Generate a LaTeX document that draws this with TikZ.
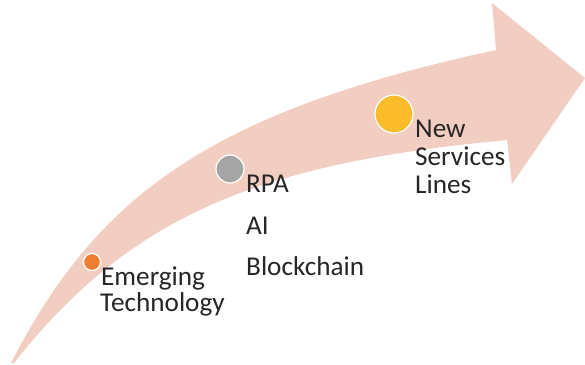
\documentclass[tikz,border=0pt]{standalone}
\usepackage{fontspec}
\setmainfont{Carlito}
\usepackage{tikz}

\definecolor{arrowpink}{RGB}{242,206,194}
\definecolor{dotorange}{RGB}{237,125,49}
\definecolor{dotgray}{RGB}{165,165,165}
\definecolor{dotyellow}{RGB}{250,188,40}
\definecolor{labeltext}{RGB}{38,38,38}

\begin{document}
\begin{tikzpicture}[x=1pt, y=-1pt,
    dot/.style={circle, draw=white, line width=1.2pt, inner sep=0pt},
    lbl/.style={anchor=base west, inner sep=0pt, text=labeltext,
        font=\fontsize{27.2}{28}\selectfont}]
    \useasboundingbox (0,0) rectangle (585,364);

    % the curved arrow
    \fill[arrowpink] (11,363) .. controls (96,198) and (206,112.5) .. (496,50)
        -- (492,3) -- (585,78) -- (512,184) -- (507,140)
        .. controls (261,163) and (131,214.5) .. (14,363) -- cycle;

    % dots
    \node[dot, fill=dotorange, minimum size=17pt] (emerging) at (92,262) {};
    \node[dot, fill=dotgray, minimum size=28pt] (rpa) at (230,169) {};
    \node[dot, fill=dotyellow, minimum size=38pt] (services) at (394,114) {};

    % labels
    \node[lbl] (emerging1) at (101,285) {Emerging};
    \node[lbl] (emerging2) at (100,311) {Technology};

    \node[lbl] (rpa1) at (246,192) {RPA};
    \node[lbl] (rpa2) at (246,234) {AI};
    \node[lbl] (rpa3) at (246,275) {Blockchain};

    \node[lbl] (services1) at (415,137) {New};
    \node[lbl] (services2) at (415,165) {Services};
    \node[lbl] (services3) at (415,193) {Lines};
\end{tikzpicture}
\end{document}
